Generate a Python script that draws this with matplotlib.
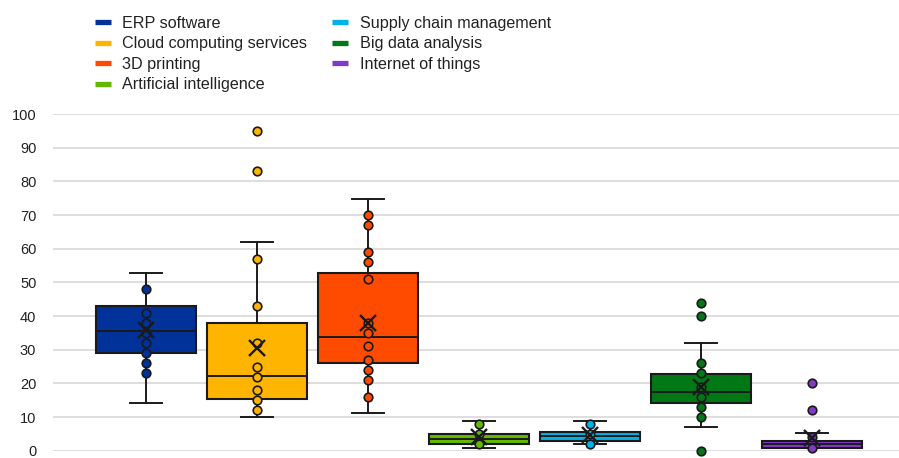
import matplotlib
matplotlib.use("Agg")
import matplotlib.pyplot as plt
from matplotlib.lines import Line2D

plt.rcParams['font.family'] = ['Liberation Sans', 'DejaVu Sans']

categories = ["ERP software", "Cloud computing services", "3D printing",
              "Artificial intelligence", "Supply chain management",
              "Big data analysis", "Internet of things"]
colors = ["#003299", "#FFB400", "#FF4B00", "#65B800", "#00B1EA", "#007816", "#8139C6"]

q1 = [28.9, 15.3, 26.0, 1.9, 2.9, 14.3, 0.7]
median = [35.5, 22.1, 33.9, 3.5, 4.4, 17.5, 1.9]
q3 = [43.0, 38.0, 52.9, 5.1, 5.7, 22.8, 3.0]
whislo = [14.1, 10.0, 11.1, 0.9, 2.1, 6.9, 0.7]
whishi = [52.8, 62.0, 74.8, 8.8, 8.8, 32.0, 5.3]
means = [35.8, 30.4, 38.0, 4.0, 4.7, 19.0, 3.7]

points_erp = [48, 41, 38, 35, 32, 29, 26, 23]
points_cloud = [95, 83, 57, 43, 32, 25, 22, 18, 15, 12]
points_3d = [70, 67, 59, 56, 51, 38, 35, 31, 27, 24, 21, 16]
points_ai = [8, 5, 2]
points_supply = [8, 5, 2]
points_bigdata = [44, 40, 26, 23, 19, 16, 13, 10, 0]
points_iot = [20, 12, 4, 0.7]
points = [points_erp, points_cloud, points_3d, points_ai, points_supply,
          points_bigdata, points_iot]

yticks = [0, 10, 20, 30, 40, 50, 60, 70, 80, 90, 100]

W, H = 899, 458
fig = plt.figure(figsize=(W / 100, H / 100), dpi=100)
ax = fig.add_axes([53 / W, (H - 450.7) / H, (W - 53) / W, (450.7 - 114) / H])

positions = list(range(len(categories)))
stats = []
for i in positions:
    stats.append(dict(label=categories[i], q1=q1[i], med=median[i], q3=q3[i],
                      whislo=whislo[i], whishi=whishi[i], mean=means[i], fliers=[]))

bp = ax.bxp(stats, positions=positions, widths=0.9, patch_artist=True,
            showmeans=False, showfliers=False, capwidths=0.28,
            boxprops=dict(edgecolor="#1a1a1a", linewidth=1.5),
            medianprops=dict(color="#1a1a1a", linewidth=1.4),
            whiskerprops=dict(color="#1a1a1a", linewidth=1.4),
            capprops=dict(color="#1a1a1a", linewidth=1.4), zorder=2)
for patch, c in zip(bp["boxes"], colors):
    patch.set_facecolor(c)

for i in positions:
    ax.scatter([i] * len(points[i]), points[i], s=38, facecolor=colors[i],
               edgecolor="#1a1a1a", linewidth=1.2, zorder=4, clip_on=False)
    ax.plot([i], [means[i]], marker="x", markersize=11, mew=1.7,
            color="#1a1a1a", linestyle="none", zorder=5, clip_on=False)

ax.set_xlim((53 - 146) / 111, (W - 146) / 111)
ax.set_ylim(0, 100)
ax.set_yticks(yticks)
ax.set_xticks([])
ax.yaxis.grid(True, color="#d4d4d4", linewidth=1.1, zorder=0)
ax.set_axisbelow(True)
for s in ax.spines.values():
    s.set_visible(False)
ax.tick_params(axis="y", length=0, pad=12, labelsize=10.5, labelcolor="#222222")

handles = [Line2D([], [], color=c, lw=3.8, solid_capstyle="butt") for c in colors]
fig.legend(handles, categories, loc="upper left", ncol=2,
           bbox_to_anchor=(95 / W, 1 - 16 / H), frameon=False,
           fontsize=11.6, handlelength=1.0, handletextpad=0.7,
           columnspacing=1.55, labelspacing=0.34, borderpad=0, borderaxespad=0,
           labelcolor="#222222")

fig.savefig("out.png", dpi=100)
